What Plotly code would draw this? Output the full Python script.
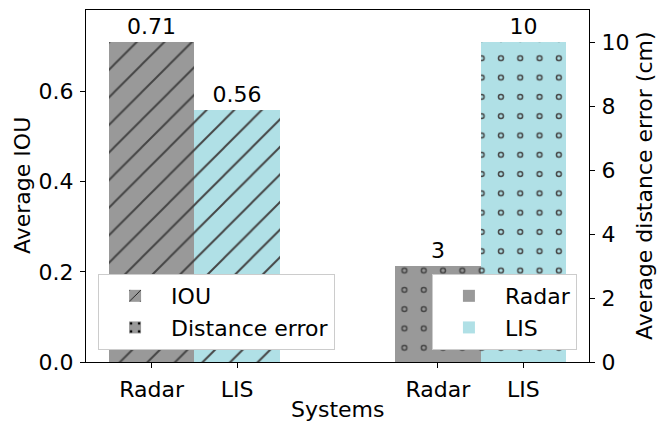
import plotly.graph_objects as go

# ---- data ----
systems = ["Radar", "LIS"]
iou_values = [0.71, 0.56]
distance_values = [3, 10]
left_ticks = [0.0, 0.2, 0.4, 0.6]
right_ticks = [0, 2, 4, 6, 8, 10]
legend_metrics = ["IOU", "Distance error"]
x_title = "Systems"
left_title = "Average IOU"
right_title = "Average distance error (cm)"

# ---- style ----
GRAY = "#999999"
CYAN = "#b0e0e6"
colors = [GRAY, CYAN]
FONT = dict(family="DejaVu Sans", size=22, color="black")
BAR_W = 1.0
GROUP_GAP = 2.35

iou_x = [i for i in range(len(systems))]
dist_x = [len(systems) - 1 + GROUP_GAP + i for i in range(len(systems))]
all_x = iou_x + dist_x
pad = 0.05 * ((all_x[-1] + BAR_W / 2) - (all_x[0] - BAR_W / 2))
x_range = [all_x[0] - BAR_W / 2 - pad, all_x[-1] + BAR_W / 2 + pad]

fig = go.Figure()

# IOU bars (hatched '/')
fig.add_trace(go.Bar(
    x=iou_x, y=iou_values, width=BAR_W, name=legend_metrics[0], legend="legend",
    marker=dict(color=colors, line=dict(width=0),
                pattern=dict(shape="/", fgcolor="black", fgopacity=1, size=19.5,
                             solidity=0.1, fillmode="overlay")),
    text=[f"{v:g}" for v in iou_values], texttemplate="%{text}",
    textposition="outside", textfont=FONT, cliponaxis=False,
    yaxis="y",
))

# Distance error bars (dotted, ring effect via overlay)
fig.add_trace(go.Bar(
    x=dist_x, y=distance_values, width=BAR_W, name=legend_metrics[1], legend="legend",
    marker=dict(color=colors, line=dict(width=0),
                pattern=dict(shape=".", fgcolor="black", fgopacity=1, size=19.3,
                             solidity=0.085, fillmode="overlay")),
    text=[f"{v:g}" for v in distance_values], texttemplate="%{text}",
    textposition="outside", textfont=FONT, cliponaxis=False,
    yaxis="y2",
))
fig.add_trace(go.Bar(
    x=dist_x, y=distance_values, width=BAR_W, showlegend=False, hoverinfo="skip",
    marker=dict(color="rgba(0,0,0,0)", line=dict(width=0),
                pattern=dict(shape=".", fgcolor=colors, fgopacity=1,
                             bgcolor="rgba(0,0,0,0)", size=19.3, solidity=0.025,
                             fillmode="overlay")),
    yaxis="y2",
))

# Legend entries for systems
for name, c in zip(systems, colors):
    fig.add_trace(go.Bar(x=[None], y=[None], name=name, legend="legend2",
                         marker=dict(color=c, line=dict(width=0)), yaxis="y2"))

axis_common = dict(showline=True, linecolor="black", linewidth=1.3, ticks="outside",
                   ticklen=5, tickwidth=1.3, tickcolor="black", showgrid=False,
                   zeroline=False, tickfont=FONT, ticklabelstandoff=2, automargin=False)

legend_common = dict(bgcolor="white", bordercolor="#cccccc", borderwidth=1,
                     font=FONT, yanchor="bottom", y=0.034, itemwidth=62,
                     traceorder="normal")

fig.update_layout(
    width=657, height=424,
    margin=dict(l=86, r=68, t=10, b=62, autoexpand=False),
    plot_bgcolor="white", paper_bgcolor="white",
    font=FONT, barmode="overlay", bargap=0,
    xaxis=dict(range=x_range, tickvals=all_x, ticktext=systems + systems, mirror=True,
               **axis_common),
    yaxis=dict(range=[0, max(iou_values) * 1.1], tickvals=left_ticks, tickformat=".1f",
               mirror=True, **axis_common),
    yaxis2=dict(range=[0, max(distance_values) * 1.1], tickvals=right_ticks, overlaying="y",
                side="right", **axis_common),
    legend=dict(x=0.024, xanchor="left", **legend_common),
    legend2=dict(x=0.976, xanchor="right", **legend_common),
    annotations=[
        dict(text=x_title, xref="paper", yref="paper", x=0.5, y=0, yshift=-47,
             xanchor="center", yanchor="middle", showarrow=False, font=FONT),
        dict(text=left_title, xref="paper", yref="paper", x=0, y=0.5, xshift=-64,
             xanchor="center", yanchor="middle", textangle=-90, showarrow=False, font=FONT),
        dict(text=right_title, xref="paper", yref="paper", x=1, y=0.5, xshift=55,
             xanchor="center", yanchor="middle", textangle=-90, showarrow=False, font=FONT),
    ],
)

fig.write_html("out.html", config={"displayModeBar": False},
               post_script="document.body.style.margin='0';document.body.style.overflow='hidden';")
